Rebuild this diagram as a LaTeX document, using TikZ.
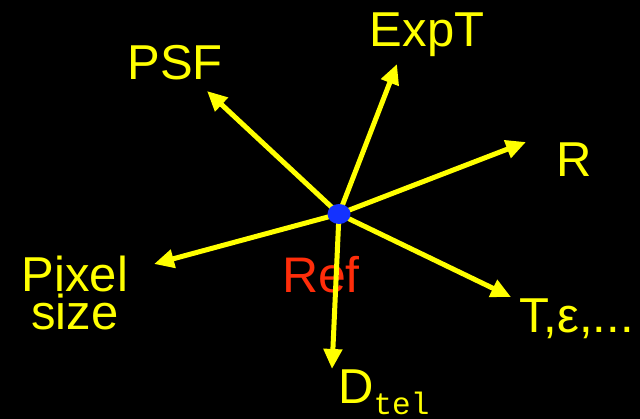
\documentclass[tikz,border=0pt]{standalone}
\usepackage{fontspec}
\setmainfont{Liberation Sans}
\newfontfamily\telfont{Liberation Mono}
\usepackage{tikz}
\usetikzlibrary{arrows.meta, positioning, shapes.geometric}

\definecolor{refyellow}{RGB}{255,255,0}
\definecolor{refred}{RGB}{255,45,10}
\definecolor{refblue}{RGB}{20,50,255}

\begin{document}
\begin{tikzpicture}[x=1pt, y=1pt,
  lbl/.style={text=refyellow, inner sep=0pt, font=\fontsize{49}{38}\selectfont},
  arr/.style={-{Triangle[length=20pt, width=18pt]}, draw=refyellow, fill=refyellow, line width=5pt},
  dot/.style={ellipse, fill=refblue, minimum width=23pt, minimum height=20pt, inner sep=0pt},
]

\fill[black] (0,0) rectangle (640,419);
\useasboundingbox (0,0) rectangle (640,419);

% Centre and arrow tips
\coordinate (centre) at (339,205);
\coordinate (psftip) at (207,328);
\coordinate (exptip) at (397,355);
\coordinate (rtip) at (526,277);
\coordinate (ttip) at (511,122);
\coordinate (dtip) at (332,50);
\coordinate (pixtip) at (154,155);

% Labels
\node[text=refred, inner sep=0pt, font=\fontsize{50}{56}\selectfont, anchor=base] (reflbl) at (321,126) {Ref};
\node[lbl, anchor=base] (psf) at (175,339) {PSF};
\node[lbl, anchor=base] (expt) at (427,372) {ExpT};
\node[lbl, anchor=base] (r) at (574,242) {R};
\node[lbl, anchor=base west] (teps) at (519,86) {T,ε,...};
\node[lbl, anchor=base west] (dtel) at (338,15) {D\raisebox{-11pt}{\fontsize{31}{31}\telfont tel}};
\node[lbl, align=center, anchor=base] (pix) at (75,89) {Pixel\\size};

% Arrows
\draw[arr] (centre) -- (psftip);
\draw[arr] (centre) -- (exptip);
\draw[arr] (centre) -- (rtip);
\draw[arr] (centre) -- (ttip);
\draw[arr] (centre) -- (dtip);
\draw[arr] (centre) -- (pixtip);

\node[dot] (ref) at (centre) {};

\end{tikzpicture}
\end{document}
